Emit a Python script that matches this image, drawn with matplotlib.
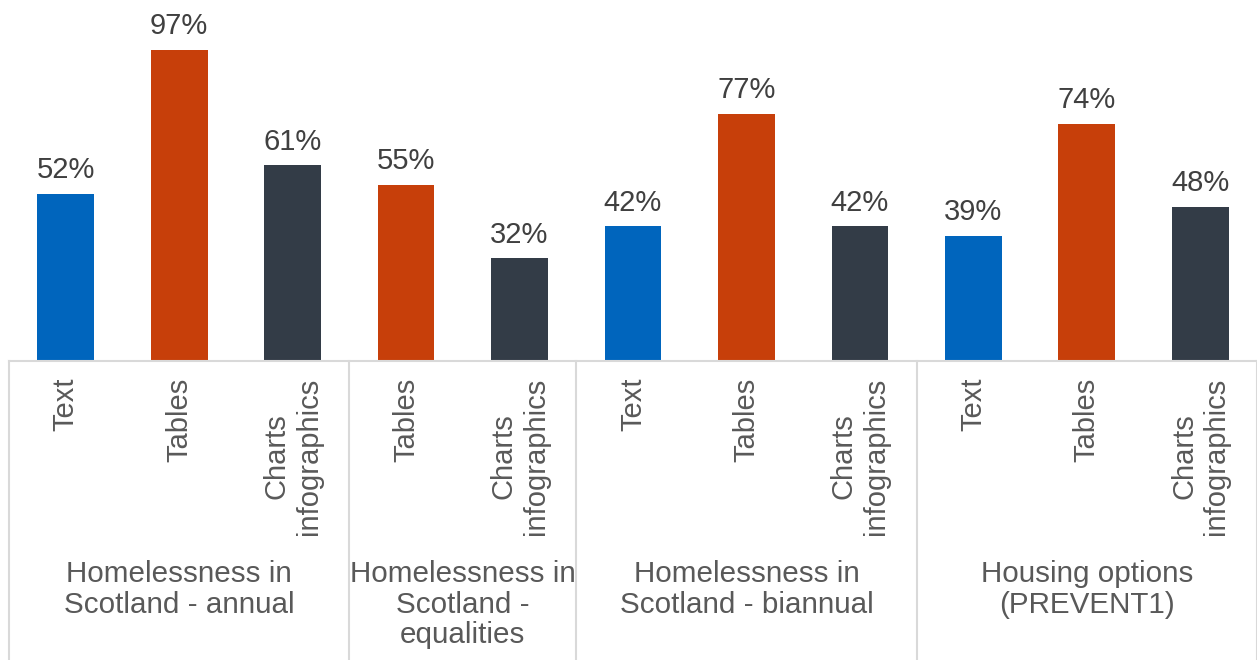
import numpy as np
import matplotlib.pyplot as plt
from matplotlib.transforms import blended_transform_factory

plt.rcParams['font.family'] = ['Liberation Sans', 'DejaVu Sans']

# data
groups = ['Homelessness in\nScotland - annual', 'Homelessness in\nScotland -\nequalities',
          'Homelessness in\nScotland - biannual', 'Housing options\n(PREVENT1)']
group_items = [['Text', 'Tables', 'Charts\ninfographics'],
               ['Tables', 'Charts\ninfographics'],
               ['Text', 'Tables', 'Charts\ninfographics'],
               ['Text', 'Tables', 'Charts\ninfographics']]
group_values = [[52, 97, 61],
                [55, 32],
                [42, 77, 42],
                [39, 74, 48]]

colours = {'Text': '#0065bd', 'Tables': '#c73f0a', 'Charts\ninfographics': '#333c47'}
grey_line = '#d9d9d9'
text_col = '#595959'

labels = [l for g in group_items for l in g]
values = [v for g in group_values for v in g]
x = np.arange(len(values))

fig = plt.figure(figsize=(12.57, 6.6), dpi=100)
ax = fig.add_axes([9 / 1257, 1 - 361 / 660, 1 - 9 / 1257, 361 / 660])

ax.bar(x, values, width=0.5, color=[colours[l] for l in labels])
for xi, v in zip(x, values):
    ax.annotate(f'{v}%', (xi, v), xytext=(0, 7), textcoords='offset points',
                ha='center', va='bottom', fontsize=21, color='#404040')

ax.set_xlim(-0.5, len(values) - 0.5)
ax.set_ylim(0, 112.5)
ax.set_yticks([])
ax.set_xticks(x)
ax.set_xticklabels(labels, rotation=90, fontsize=21, color=text_col,
                   va='top', ha='center', multialignment='center')
ax.tick_params(axis='x', length=0, pad=12)
for s in ['top', 'left', 'right']:
    ax.spines[s].set_visible(False)
ax.spines['bottom'].set_color(grey_line)
ax.spines['bottom'].set_linewidth(1.5)

# group separators and group labels below the axis
trans = blended_transform_factory(ax.transData, fig.transFigure)
bounds = np.cumsum([0] + [len(g) for g in group_items]) - 0.5
for b in bounds:
    ax.plot([b, b], [0, 1 - 361 / 660], transform=trans, color=grey_line,
            lw=1.5, clip_on=False)
for i, name in enumerate(groups):
    mid = (bounds[i] + bounds[i + 1]) / 2
    ax.text(mid, 1 - 560 / 660, name, transform=trans, ha='center', va='top',
            fontsize=21.3, color=text_col, linespacing=1.12)

fig.savefig('out.png', dpi=100)
